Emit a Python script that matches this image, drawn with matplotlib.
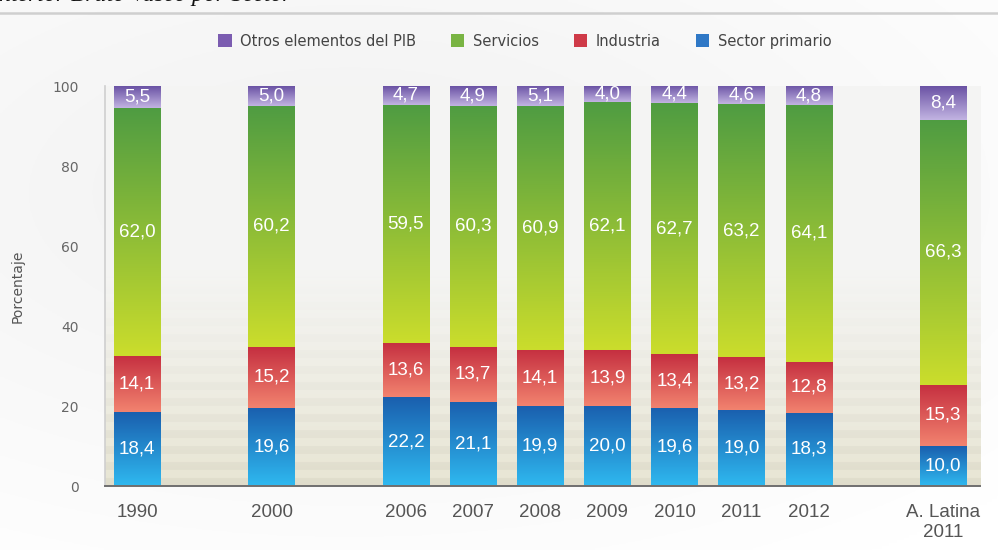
import numpy as np
import matplotlib
matplotlib.use("Agg")
import matplotlib.pyplot as plt
from matplotlib.colors import LinearSegmentedColormap
from matplotlib.patches import Patch

# Composición del PIB por sectores (%)
categorias = ["1990", "2000", "2006", "2007", "2008", "2009", "2010", "2011", "2012", "A. Latina\n2011"]
posiciones = [0, 2, 4, 5, 6, 7, 8, 9, 10, 12]
sector_primario = [18.4, 19.6, 22.2, 21.1, 19.9, 20.0, 19.6, 19.0, 18.3, 10.0]
industria = [14.1, 15.2, 13.6, 13.7, 14.1, 13.9, 13.4, 13.2, 12.8, 15.3]
servicios = [62.0, 60.2, 59.5, 60.3, 60.9, 62.1, 62.7, 63.2, 64.1, 66.3]
otros = [5.5, 5.0, 4.7, 4.9, 5.1, 4.0, 4.4, 4.6, 4.8, 8.4]

series = [
    ("Sector primario", sector_primario, "#2f78c6", ("#2fb9f0", "#1a5fae")),
    ("Industria", industria, "#cf3a48", ("#f2836f", "#c52f40")),
    ("Servicios", servicios, "#79b443", ("#cbdd2c", "#4f9c42")),
    ("Otros elementos del PIB", otros, "#7b5cb0", ("#c2b4e2", "#6a52a4")),
]

fig = plt.figure(figsize=(9.98, 5.5), dpi=100)

# soft page background
bg = fig.add_axes([0, 0, 1, 1], zorder=-10)
bg.set_axis_off()
yy, xx = np.mgrid[0:1:200j, 0:1:400j]
shade = 0.945 + 0.055 * np.clip(np.hypot((xx - 0.35) / 0.9, (yy - 0.35) / 0.8), 0, 1)
bg.imshow(np.dstack([shade, shade, shade]), extent=[0, 1, 0, 1], aspect="auto", origin="upper")
bg.set_xlim(0, 1)
bg.set_ylim(0, 1)
bg.axhline(1 - 13 / 550, color="#cfcfcf", lw=1.8)
bg.text(292 / 998, 1 - 1 / 550, "Producto Interior Bruto Vasco por Sector",
        ha="right", va="baseline", fontsize=17, style="italic",
        family="Liberation Serif", color="#111111", clip_on=False)

ax = fig.add_axes([105 / 998, 1 - 486 / 550, (980 - 105) / 998, (486 - 86) / 550])
ax.set_facecolor("none")
xmin, xmax, ymin, ymax = -0.48, 12.55, 0, 100

# striped backdrop fading upward
yv = np.linspace(ymin, ymax, 800)
fade = np.clip(1 - yv / 55, 0, 1) ** 1.1
stripe = (np.floor(yv / 2.0) % 2) * 0.5 + 0.5
base_top = np.array([0.96, 0.96, 0.955])
base_bot = np.array([0.84, 0.83, 0.76])
cols = base_top[None, :] * (1 - fade[:, None]) + base_bot[None, :] * fade[:, None]
cols = cols + (stripe[:, None] * 0.07 * fade[:, None])
cols = np.clip(cols, 0, 1)
img = np.repeat(cols[:, None, :], 10, axis=1)
ax.imshow(img, extent=[xmin, xmax, ymin, ymax], origin="lower", aspect="auto", zorder=0)

width = 0.69
grad = np.linspace(0, 1, 256)[:, None]
bottoms = np.zeros(len(categorias))
for nombre, valores, color, (c_bot, c_top) in series:
    cmap = LinearSegmentedColormap.from_list(nombre, [c_bot, c_top])
    bars = ax.bar(posiciones, valores, bottom=bottoms, width=width,
                  color="none", edgecolor="none", zorder=2)
    for bar, x, b, v in zip(bars, posiciones, bottoms, valores):
        im = ax.imshow(grad, extent=[x - width / 2, x + width / 2, b, b + v],
                       origin="lower", aspect="auto", cmap=cmap, zorder=2)
        im.set_clip_path(bar)
        ax.text(x, b + v / 2, f"{v:.1f}".replace(".", ","), ha="center", va="center",
                color="white", fontsize=13.5, family="Liberation Sans", zorder=3)
    bottoms = bottoms + np.array(valores)

ax.set_xlim(xmin, xmax)
ax.set_ylim(ymin, ymax)
ax.set_xticks(posiciones)
ax.set_xticklabels(categorias, fontsize=13.5, family="Liberation Sans", color="#555555")
ax.set_yticks([0, 20, 40, 60, 80, 100])
ax.set_yticklabels(["0", "20", "40", "60", "80", "100"], fontsize=10, color="#666666")
ax.tick_params(axis="x", length=0, pad=13)
ax.tick_params(axis="y", length=0, pad=19)
ax.set_ylabel("Porcentaje", fontsize=10, color="#555555", labelpad=20)
for s in ("top", "right"):
    ax.spines[s].set_visible(False)
ax.spines["left"].set_color("#cfcfcf")
ax.spines["left"].set_linewidth(1.2)
ax.spines["bottom"].set_color("#6f6f6f")
ax.spines["bottom"].set_linewidth(1.4)
ax.spines["left"].set_zorder(1)

handles = [Patch(facecolor=c, edgecolor="none") for _, _, c, _ in reversed(series)]
labels = [n for n, _, _, _ in reversed(series)]
fig.legend(handles, labels, loc="center", bbox_to_anchor=(525 / 998, 1 - 41 / 550), ncol=4,
           frameon=False, fontsize=10.5, handlelength=0.9, handleheight=0.9,
           handletextpad=0.6, columnspacing=2.4, labelcolor="#444444")

fig.savefig("out.png", dpi=100)
